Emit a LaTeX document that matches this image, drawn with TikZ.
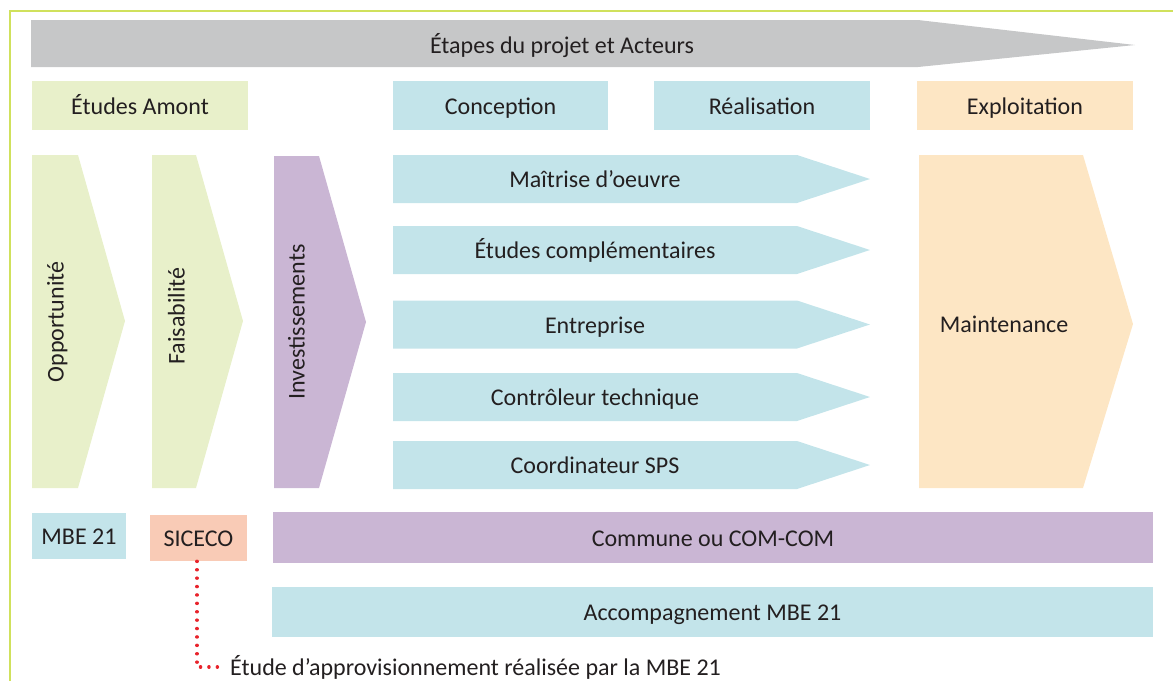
\documentclass[tikz,border=0pt]{standalone}
\usepackage{fontspec}
\setmainfont{Carlito}
\usetikzlibrary{positioning}

\definecolor{amont}{HTML}{E8F0CA}
\definecolor{bleu}{HTML}{C3E4EA}
\definecolor{mauve}{HTML}{CAB6D4}
\definecolor{exploit}{HTML}{FDE6C4}
\definecolor{saumon}{HTML}{F9CBB6}
\definecolor{gris}{HTML}{C6C7C8}
\definecolor{cadre}{HTML}{D0E15C}
\definecolor{texte}{HTML}{231F20}
\definecolor{rouge}{HTML}{E8232B}

\begin{document}
\begin{tikzpicture}[x=1pt,y=-1pt,font=\fontsize{24}{28}\selectfont,text=texte,
    every node/.style={inner sep=6pt,text height=17pt,text depth=0pt}]
  \tikzstyle{etape}=[minimum width=216pt,minimum height=49pt]
  \tikzstyle{acteur}=[minimum height=48pt]
  \tikzstyle{pointille}=[rouge,line width=3.2pt,line cap=round,dash pattern=on 0.3pt off 8.1pt]
  \useasboundingbox (0,0) rectangle (1173,681);
  % Cadre
  \draw[cadre,line width=1.5pt] (10,681) -- (10,11) -- (1173,11);
  % Fleche des etapes
  \fill[gris] (31,20) -- (918,20) -- (1135,45) -- (918,67) -- (31,67) -- cycle;
  \node (etapes) at (562,45) {Étapes du projet et Acteurs};
  % Phases
  \node[etape,fill=amont] (amont) at (140,105.5) {Études Amont};
  \node[etape,fill=bleu,minimum width=215pt] (concep) at (500.5,105.5) {Conception};
  \node[etape,fill=bleu] (realis) at (762,105.5) {Réalisation};
  \node[etape,fill=exploit] (exploit) at (1025,105.5) {Exploitation};
  % Chevrons verticaux
  \fill[amont] (32,155) -- (78,155) -- (125,321) -- (78,488) -- (32,488) -- cycle;
  \node[rotate=90] (opport) at (55,322) {Opportunité};
  \fill[amont] (152,155) -- (196,155) -- (243,321) -- (196,488) -- (152,488) -- cycle;
  \node[rotate=90] (faisab) at (176,316) {Faisabilité};
  \fill[mauve] (274,156) -- (319,156) -- (366,322) -- (319,488) -- (274,488) -- cycle;
  \node[rotate=90] (invest) at (296,322) {Investissements};
  \fill[exploit] (919,155) -- (1083,155) -- (1133,324) -- (1083,488) -- (919,488) -- cycle;
  \node (mainten) at (1004,324) {Maintenance};
  % Intervenants conception / realisation
  \foreach \y/\nom/\txt in {179/moe/Maîtrise d’oeuvre,250/etudes/Études complémentaires,
      324.5/entrep/Entreprise,397/ctrl/Contrôleur technique,465/sps/Coordinateur SPS}{
    \fill[bleu] (393,\y-24) -- (797,\y-24) -- (870,\y) -- (797,\y+24) -- (393,\y+24) -- cycle;
    \node (\nom) at (595,\y) {\txt};
  }
  % Acteurs
  \node[acteur,fill=bleu,minimum width=94pt,minimum height=46pt] (mbe) at (79,536) {MBE 21};
  \node[acteur,fill=saumon,minimum width=97pt,minimum height=46pt] (siceco) at (198.5,538) {SICECO};
  \node[acteur,fill=mauve,minimum width=880pt,minimum height=51pt] (commune) at (713,537.5) {Commune ou COM-COM};
  \node[acteur,fill=bleu,minimum width=881pt,minimum height=50pt] (accomp) at (712.5,612) {Accompagnement MBE 21};
  % Note
  \node[anchor=west] (etude) at (224,667) {Étude d’approvisionnement réalisée par la MBE 21};
  \draw[pointille] ([xshift=-1.5pt]siceco.south) |- (etude.west);
\end{tikzpicture}
\end{document}
